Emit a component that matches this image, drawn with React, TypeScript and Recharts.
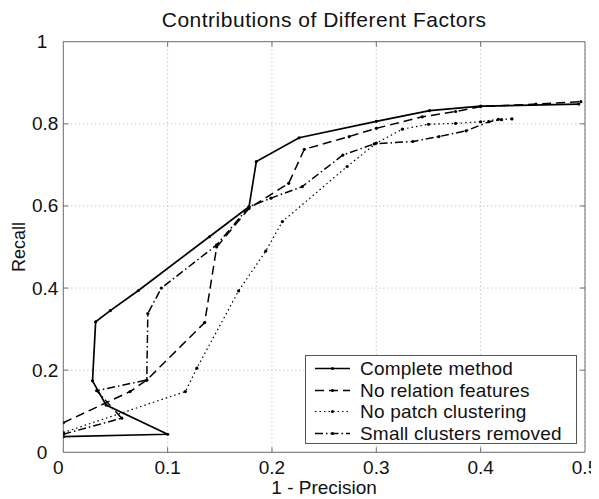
import React from 'react';
import { LineChart, Line, XAxis, YAxis, CartesianGrid, ReferenceArea, Legend } from 'recharts';

// tick values
const xTicks = [0, 0.1, 0.2, 0.3, 0.4, 0.5];
const yTicks = [0, 0.2, 0.4, 0.6, 0.8, 1];

// [1 - precision, recall] pairs, in threshold order
const completeMethod: [number, number][] = [
  [0, 0.038], [0.1, 0.044], [0.041, 0.115], [0.028, 0.174], [0.031, 0.318],
  [0.045, 0.345], [0.072, 0.394], [0.14, 0.525], [0.178, 0.598], [0.185, 0.708],
  [0.226, 0.766], [0.3, 0.806], [0.351, 0.832], [0.4, 0.843], [0.494, 0.848],
];
const noRelationFeatures: [number, number][] = [
  [0, 0.072], [0.064, 0.148], [0.08, 0.176], [0.1355, 0.316], [0.147, 0.5],
  [0.178, 0.594], [0.216, 0.655], [0.231, 0.738], [0.274, 0.769], [0.3, 0.789],
  [0.344, 0.817], [0.376, 0.83], [0.4, 0.842], [0.453, 0.848], [0.496, 0.854],
];
const noPatchClustering: [number, number][] = [
  [0, 0.048], [0.117, 0.148], [0.128, 0.205], [0.168, 0.393], [0.194, 0.49],
  [0.21, 0.562], [0.272, 0.696], [0.3, 0.753], [0.325, 0.787], [0.35, 0.799],
  [0.376, 0.801], [0.4, 0.805], [0.417, 0.811], [0.43, 0.812],
];
const smallClustersRemoved: [number, number][] = [
  [0, 0.044], [0.056, 0.083], [0.032, 0.15], [0.08, 0.176], [0.081, 0.338],
  [0.094, 0.4], [0.147, 0.505], [0.178, 0.598], [0.199, 0.619], [0.229, 0.647],
  [0.268, 0.724], [0.298, 0.751], [0.335, 0.757], [0.36, 0.769], [0.386, 0.783],
  [0.408, 0.805], [0.42, 0.81],
];

const series = [
  { name: 'Complete method', points: completeMethod, dash: undefined, width: 1.7 },
  { name: 'No relation features', points: noRelationFeatures, dash: '9 5', width: 1.5 },
  { name: 'No patch clustering', points: noPatchClustering, dash: '1.5 3', width: 1.2 },
  { name: 'Small clusters removed', points: smallClustersRemoved, dash: '8 3 1.5 3', width: 1.5 },
];

const FONT = '"Liberation Sans", Arial, Helvetica, sans-serif';
const AXIS = '#707070';
const W = 591;
const H = 491;
const MARGIN = { top: 33.7, right: 14, bottom: 16.7, left: 5.3 };
const X_AXIS_H = 30;
const Y_AXIS_W = 50;
const PLOT_TOP = MARGIN.top;
const PLOT_RIGHT = W - MARGIN.right;
const PLOT_LEFT = MARGIN.left + Y_AXIS_W;
const PLOT_BOTTOM = H - MARGIN.bottom - X_AXIS_H;

const XTick = (props: any) => {
  const { x, y, payload } = props;
  const v = payload.value as number;
  const inner = v > 0 && v < 0.5;
  return (
    <g>
      {inner && <line x1={x} x2={x} y1={y} y2={y - 5} stroke={AXIS} />}
      {inner && <line x1={x} x2={x} y1={PLOT_TOP} y2={PLOT_TOP + 5} stroke={AXIS} />}
      <text x={x + (v === 0 ? -5 : 0)} y={y + 22} textAnchor="middle" fontSize={19} fill="#111" fontFamily={FONT}>
        {String(v)}
      </text>
    </g>
  );
};

const YTick = (props: any) => {
  const { x, y, payload } = props;
  const v = payload.value as number;
  const whole = Number.isInteger(v);
  return (
    <g>
      {!whole && <line x1={x} x2={x + 5} y1={y} y2={y} stroke={AXIS} />}
      {!whole && <line x1={PLOT_RIGHT} x2={PLOT_RIGHT - 5} y1={y} y2={y} stroke={AXIS} />}
      <text x={x - (whole ? 16 : 5)} y={y + 6.5} textAnchor="end" fontSize={19} fill="#111" fontFamily={FONT}>
        {String(v)}
      </text>
    </g>
  );
};

const renderDot = (p: any) => (
  <circle key={`d-${p.index}`} cx={p.cx} cy={p.cy} r={1.6} fill="#000" stroke="none" />
);

const LegendBox = () => (
  <div
    style={{
      width: 272,
      height: 89,
      boxSizing: 'border-box',
      border: '1px solid #555',
      background: '#fff',
      fontFamily: FONT,
      fontSize: 19,
      letterSpacing: 0.2,
      color: '#111',
      paddingTop: 2,
    }}
  >
    {series.map((s) => (
      <div key={s.name} style={{ display: 'flex', alignItems: 'center', height: 21.5, lineHeight: '21.5px' }}>
        <svg width={50} height={21} style={{ flex: 'none' }}>
          <line x1={9} x2={44} y1={10.5} y2={10.5} stroke="#000" strokeWidth={s.width} strokeDasharray={s.dash} />
          <circle cx={26.5} cy={10.5} r={1.6} fill="#000" />
        </svg>
        <span style={{ marginLeft: 4, whiteSpace: 'nowrap' }}>{s.name}</span>
      </div>
    ))}
  </div>
);

export default function App() {
  const cx = (PLOT_LEFT + PLOT_RIGHT) / 2;
  const cy = (PLOT_TOP + PLOT_BOTTOM) / 2;
  return (
    <LineChart width={W} height={H} margin={MARGIN} style={{ background: '#fff', overflow: 'visible' }}>
      <CartesianGrid stroke="#b0b0b0" strokeDasharray="1 3" />
      <XAxis
        dataKey="x"
        type="number"
        domain={[0, 0.5]}
        ticks={xTicks}
        interval={0}
        height={X_AXIS_H}
        tickSize={0}
        tickMargin={0}
        tickLine={false}
        axisLine={false}
        tick={<XTick />}
        allowDataOverflow
      />
      <YAxis
        type="number"
        domain={[0, 1]}
        ticks={yTicks}
        interval={0}
        width={Y_AXIS_W}
        tickSize={0}
        tickMargin={0}
        tickLine={false}
        axisLine={false}
        tick={<YTick />}
        allowDataOverflow
      />
      <ReferenceArea x1={0} x2={0.5} y1={0} y2={1} fill="none" stroke={AXIS} strokeWidth={1} />
      {series.map((s) => (
        <Line
          key={s.name}
          name={s.name}
          data={s.points.map(([x, y]) => ({ x, y }))}
          dataKey="y"
          type="linear"
          stroke="#000"
          strokeWidth={s.width}
          strokeDasharray={s.dash}
          dot={renderDot}
          activeDot={false}
          isAnimationActive={false}
        />
      ))}
      <Legend
        layout="vertical"
        align="center"
        verticalAlign="middle"
        content={() => <LegendBox />}
        wrapperStyle={{ left: 297, top: 347, width: 272, height: 89 }}
      />
      <text x={cx} y={18.7} textAnchor="middle" fontSize={21} letterSpacing={0.5} fill="#111" fontFamily={FONT}>
        Contributions of Different Factors
      </text>
      <text x={cx} y={486} textAnchor="middle" fontSize={19} fill="#111" fontFamily={FONT}>
        1 - Precision
      </text>
      <text
        x={17}
        y={cy}
        transform={`rotate(-90, 17, ${cy})`}
        textAnchor="middle"
        fontSize={18}
        fill="#111"
        fontFamily={FONT}
      >
        Recall
      </text>
    </LineChart>
  );
}
